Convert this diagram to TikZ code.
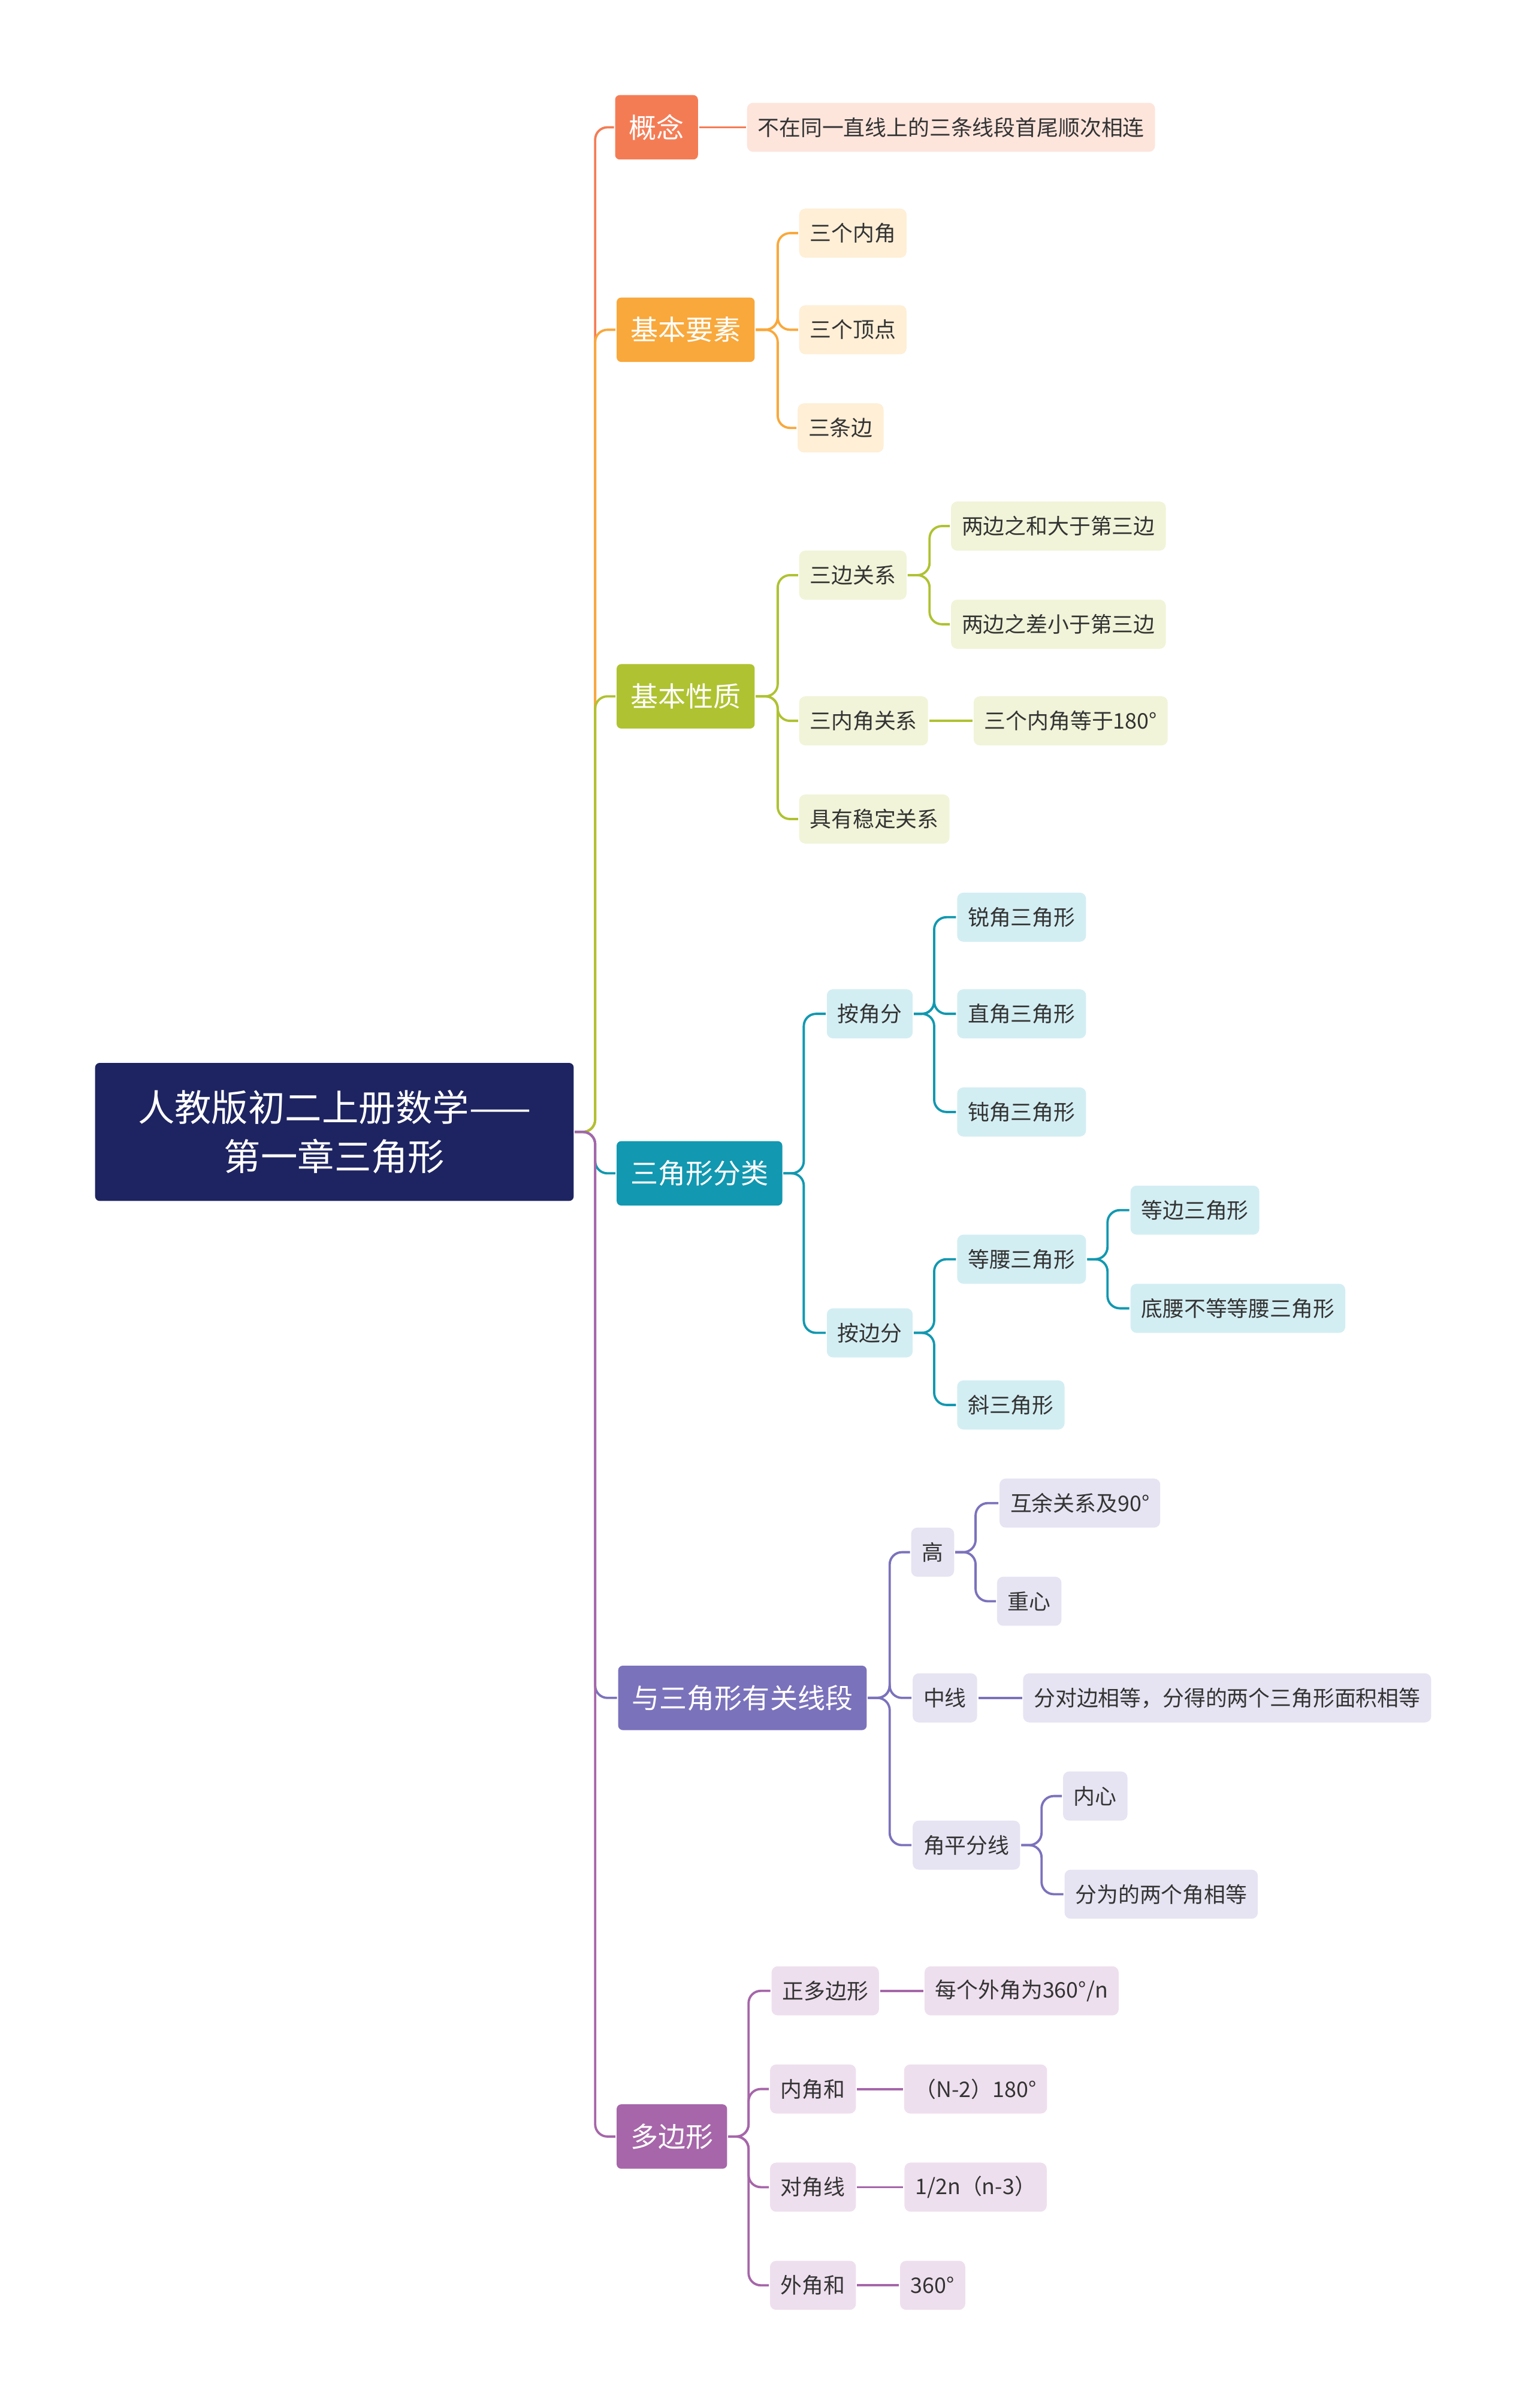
\documentclass[tikz,border=0pt]{standalone}
\usepackage{fontspec}
\setmainfont{Noto Sans CJK SC}
\definecolor{cRoot}{HTML}{1E2461}
\definecolor{cA}{HTML}{F47C55}\definecolor{lA}{HTML}{FDE5DC}
\definecolor{cB}{HTML}{F9A83B}\definecolor{lB}{HTML}{FEEFD6}
\definecolor{cC}{HTML}{AFC231}\definecolor{lC}{HTML}{F1F4D8}
\definecolor{cD}{HTML}{1298B0}\definecolor{lD}{HTML}{D3EEF3}
\definecolor{cE}{HTML}{7B72BC}\definecolor{lE}{HTML}{E6E4F2}
\definecolor{cF}{HTML}{A666A9}\definecolor{lF}{HTML}{EEDFEE}
\tikzset{every picture/.style={line width=1.5pt},
  rootnode/.style={fill=cRoot,text=white,rounded corners=3pt,minimum width=312pt,minimum height=90pt,align=center,font=\fontsize{24}{32}\selectfont},
  topic/.style={fill=#1,text=white,rounded corners=3pt,minimum height=42pt,inner xsep=9pt,font=\fontsize{18}{20}\selectfont},
  leaf/.style={fill=#1,text=black!80,rounded corners=4pt,minimum height=32pt,inner xsep=7pt,font=\fontsize{14}{16}\selectfont}}
\newcommand{\conn}[4]{\draw[#4,rounded corners=8pt] (#1.east) -- (#3,0 |- #1.east) |- (#2.west);}
\begin{document}
\begin{tikzpicture}[x=1pt,y=-1pt]
\useasboundingbox (0,0) rectangle (1000,1570);
\node[rootnode] (root) at (218,738) {人教版初二上册数学——\\第一章三角形};
% topics
\node[topic=cA] (gn) at (428,83) {概念};
\node[topic=cB] (ys) at (447,215) {基本要素};
\node[topic=cC] (xz) at (447,454) {基本性质};
\node[topic=cD] (fl) at (456,765) {三角形分类};
\node[topic=cE] (xd) at (484,1107) {与三角形有关线段};
\node[topic=cF] (dbx) at (438,1393) {多边形};
\foreach \t/\c in {gn/cA,ys/cB,xz/cC,fl/cD,xd/cE,dbx/cF} {\conn{root}{\t}{388}{\c}}
% 概念
\node[leaf=lA] (gn1) at (620,83) {不在同一直线上的三条线段首尾顺次相连};
\draw[cA] (gn.east) -- (gn1.west);
% 基本要素
\node[leaf=lB] (ys1) at (556,152) {三个内角};
\node[leaf=lB] (ys2) at (556,215) {三个顶点};
\node[leaf=lB] (ys3) at (548,279) {三条边};
\foreach \t in {ys1,ys2,ys3} {\conn{ys}{\t}{507}{cB}}
% 基本性质
\node[leaf=lC] (xz1) at (556,375) {三边关系};
\node[leaf=lC] (xz2) at (563,470) {三内角关系};
\node[leaf=lC] (xz3) at (570,534) {具有稳定关系};
\foreach \t in {xz1,xz2,xz3} {\conn{xz}{\t}{507}{cC}}
\node[leaf=lC] (xz11) at (690,343) {两边之和大于第三边};
\node[leaf=lC] (xz12) at (690,407) {两边之差小于第三边};
\foreach \t in {xz11,xz12} {\conn{xz1}{\t}{606}{cC}}
\node[leaf=lC] (xz21) at (698,470) {三个内角等于180°};
\draw[cC] (xz2.east) -- (xz21.west);
% 三角形分类
\node[leaf=lD] (fl1) at (567,661) {按角分};
\node[leaf=lD] (fl2) at (567,869) {按边分};
\foreach \t in {fl1,fl2} {\conn{fl}{\t}{524}{cD}}
\node[leaf=lD] (fl11) at (666,598) {锐角三角形};
\node[leaf=lD] (fl12) at (666,661) {直角三角形};
\node[leaf=lD] (fl13) at (666,725) {钝角三角形};
\foreach \t in {fl11,fl12,fl13} {\conn{fl1}{\t}{609}{cD}}
\node[leaf=lD] (fl21) at (666,821) {等腰三角形};
\node[leaf=lD] (fl22) at (659,916) {斜三角形};
\foreach \t in {fl21,fl22} {\conn{fl2}{\t}{609}{cD}}
\node[leaf=lD] (fl211) at (779,789) {等边三角形};
\node[leaf=lD] (fl212) at (807,853) {底腰不等等腰三角形};
\foreach \t in {fl211,fl212} {\conn{fl21}{\t}{722}{cD}}
% 与三角形有关线段
\node[leaf=lE] (xd1) at (608,1012) {高};
\node[leaf=lE] (xd2) at (616,1107) {中线};
\node[leaf=lE] (xd3) at (630,1203) {角平分线};
\foreach \t in {xd1,xd2,xd3} {\conn{xd}{\t}{580}{cE}}
\node[leaf=lE] (xd11) at (704,980) {互余关系及90°};
\node[leaf=lE] (xd12) at (671,1044) {重心};
\foreach \t in {xd11,xd12} {\conn{xd1}{\t}{636}{cE}}
\node[leaf=lE] (xd21) at (800,1107) {分对边相等，分得的两个三角形面积相等};
\draw[cE] (xd2.east) -- (xd21.west);
\node[leaf=lE] (xd31) at (714,1171) {内心};
\node[leaf=lE] (xd32) at (757,1235) {分为的两个角相等};
\foreach \t in {xd31,xd32} {\conn{xd3}{\t}{679}{cE}}
% 多边形
\node[leaf=lF] (db1) at (538,1298) {正多边形};
\node[leaf=lF] (db2) at (530,1362) {内角和};
\node[leaf=lF] (db3) at (530,1426) {对角线};
\node[leaf=lF] (db4) at (530,1490) {外角和};
\foreach \t in {db1,db2,db3,db4} {\conn{dbx}{\t}{488}{cF}}
\node[leaf=lF] (db11) at (666,1298) {每个外角为360°/n};
\node[leaf=lF] (db21) at (636,1362) {（N-2）180°};
\node[leaf=lF] (db31) at (636,1426) {1/2n（n-3）};
\node[leaf=lF] (db41) at (608,1490) {360°};
\foreach \a/\b in {db1/db11,db2/db21,db3/db31,db4/db41} {\draw[cF] (\a.east) -- (\b.west);}
\end{tikzpicture}
\end{document}
